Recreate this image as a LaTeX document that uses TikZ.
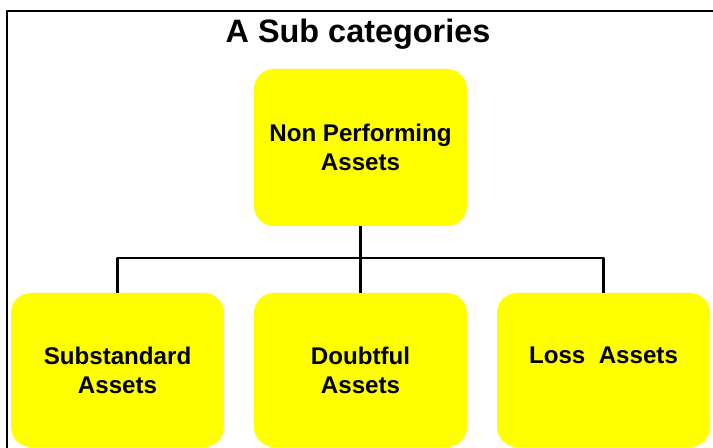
\documentclass[tikz,border=0pt]{standalone}
\usepackage{fontspec}
\setmainfont{Liberation Sans}
\usetikzlibrary{positioning}

\definecolor{boxyellow}{RGB}{255,255,0}
\tikzset{
  catbox/.style={fill=boxyellow, rounded corners=15pt, minimum width=159.75pt,
    align=center, font=\fontsize{18.1}{21.6}\selectfont\bfseries, inner sep=0pt},
  link/.style={line width=1.6pt}
}

\begin{document}
\begin{tikzpicture}[x=0.75pt,y=-0.75pt,line join=round]
  \useasboundingbox (0,0) rectangle (713,448);
  % frame
  \draw[line width=2pt] (7,448) -- (7,11) -- (640,11);
  \draw[line width=0.8pt] (640,11) -- (713,11);
  \node (title) at (358,34) {\fontsize{24.3}{28}\selectfont\bfseries A Sub categories};
  % boxes
  \node[catbox, minimum height=117.75pt] (npa) at (360.5,147.5) {Non Performing\\Assets};
  \node[catbox, minimum height=115.5pt] (sub) at (117.5,370) {Substandard\\Assets};
  \node[catbox, minimum height=115.5pt] (dbt) at (360.5,370) {Doubtful\\Assets};
  \node[catbox, minimum height=115.5pt] (loss) at (603.5,370) {Loss~~Assets\\\phantom{Assets}};
  % connectors
  \coordinate (bar) at (360.5,258);
  \draw[link] (npa.south) -- (bar);
  \draw[link] (sub.north) |- (bar) -| (loss.north);
  \draw[link] (bar) -- (dbt.north);
\end{tikzpicture}
\end{document}
